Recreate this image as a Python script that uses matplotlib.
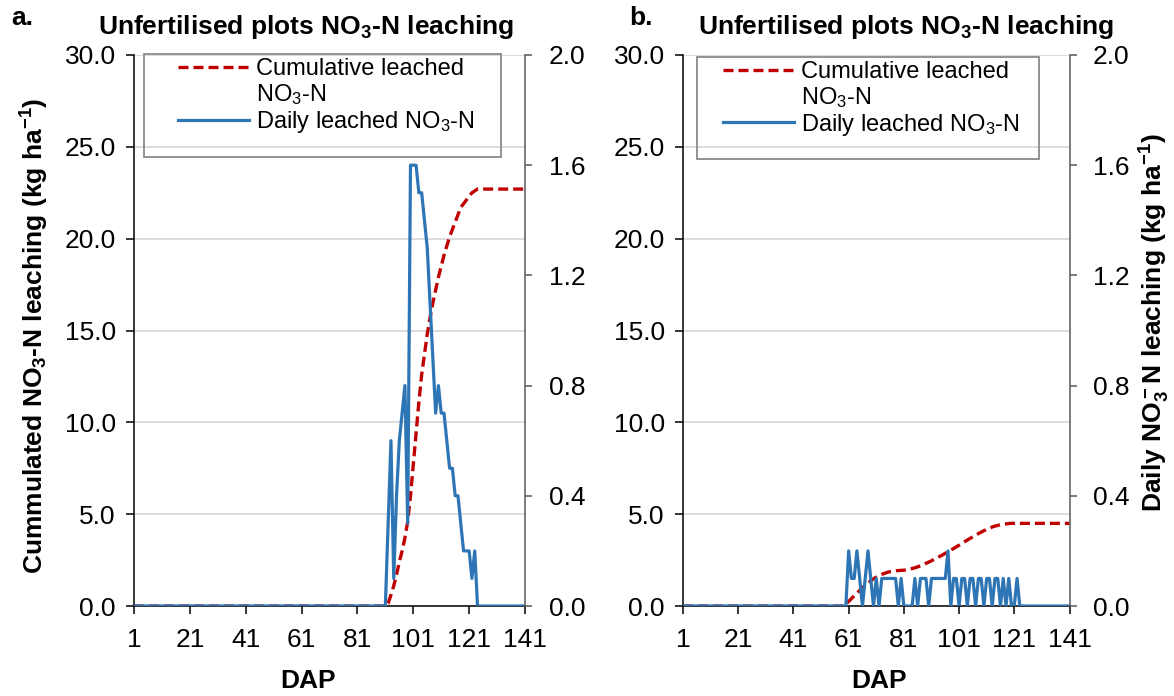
import matplotlib
matplotlib.use("Agg")
import matplotlib.pyplot as plt
import numpy as np
from matplotlib.lines import Line2D
from matplotlib.patches import Rectangle
from matplotlib.ticker import FormatStrFormatter

plt.rcParams['font.family'] = ['Liberation Sans', 'DejaVu Sans']
plt.rcParams['mathtext.default'] = 'regular'

# days after planting shown on the category axis
days = np.arange(1, 142)
x_ticks = [1, 21, 41, 61, 81, 101, 121, 141]

# a. daily leached NO3-N (kg/ha), read from day 91, zero before and after
daily_a_start = 91
daily_a = [0.0, 0.3, 0.6, 0.1, 0.4, 0.6, 0.7, 0.8, 0.3, 1.6,
           1.6, 1.6, 1.5, 1.5, 1.4, 1.3, 1.1, 0.9, 0.7, 0.8,
           0.7, 0.7, 0.6, 0.5, 0.5, 0.4, 0.4, 0.3, 0.2, 0.2,
           0.2, 0.1, 0.2, 0.0]
# a. cumulative leached NO3-N (kg/ha), read from day 91, flat after the last reading
cum_a_start = 91
cum_a = [0.0, 0.15, 0.6, 1.1, 1.7, 2.4, 3.0, 3.7, 4.6, 6.0,
         7.7, 9.4, 11.1, 12.6, 13.7, 14.8, 15.7, 16.5, 17.2, 17.9,
         18.5, 19.1, 19.6, 20.1, 20.5, 20.9, 21.3, 21.7, 21.9, 22.1,
         22.3, 22.5, 22.6, 22.7, 22.7]

# b. daily leached NO3-N, read from day 60
daily_b_start = 60
daily_b = [0.0, 0.2, 0.1, 0.1, 0.2, 0.1, 0.0, 0.1, 0.2, 0.1,
           0.0, 0.1, 0.0, 0.1, 0.1, 0.1, 0.1, 0.1, 0.1, 0.0,
           0.1, 0.0, 0.0, 0.0, 0.0, 0.1, 0.0, 0.1, 0.1, 0.1,
           0.0, 0.1, 0.1, 0.1, 0.1, 0.1, 0.1, 0.2, 0.0, 0.1,
           0.1, 0.0, 0.1, 0.1, 0.0, 0.1, 0.1, 0.0, 0.1, 0.1,
           0.0, 0.1, 0.1, 0.0, 0.1, 0.1, 0.0, 0.1, 0.0, 0.1,
           0.0, 0.0, 0.1, 0.0]
# b. cumulative leached NO3-N, read from day 59
cum_b_start = 59
cum_b = [0.0, 0.1, 0.25, 0.4, 0.55, 0.7, 0.85, 1.0, 1.12, 1.25,
         1.37, 1.48, 1.57, 1.65, 1.72, 1.78, 1.83, 1.87, 1.9, 1.92,
         1.93, 1.94, 1.95, 1.97, 2.0, 2.04, 2.08, 2.13, 2.19, 2.25,
         2.32, 2.39, 2.46, 2.54, 2.62, 2.7, 2.78, 2.87, 2.95, 3.04,
         3.13, 3.22, 3.31, 3.41, 3.5, 3.59, 3.68, 3.77, 3.86, 3.94,
         4.02, 4.1, 4.17, 4.24, 4.3, 4.35, 4.39, 4.42, 4.45, 4.47,
         4.49, 4.5]

RED = '#C00000'
BLUE = '#2E75B6'
GRID = '#D9D9D9'
TITLE = 'Unfertilised plots NO$_3$-N leaching'

W, H = 1174, 696


def full_series(start, values):
    # zero before the first reading, last reading held to day 141
    out = np.full(len(days), values[-1], dtype=float)
    out[:start - 1] = 0.0
    out[start - 1:start - 1 + len(values)] = values
    return out


def px_rect(left, top, right, bottom):
    return [left / W, 1 - bottom / H, (right - left) / W, (bottom - top) / H]


def draw_panel(ax, cum, daily, handle_x, legend_top, box):
    ax2 = ax.twinx()
    red, = ax.plot(days, cum, color=RED, lw=2.4, ls=(0, (3.0, 1.5)),
                   dash_capstyle='butt')
    blue, = ax2.plot(days, daily, color=BLUE, lw=2.3)

    ax.set_xlim(1, 141)
    ax.set_ylim(0, 30)
    ax2.set_ylim(0, 2.0)
    ax.set_xticks(x_ticks)
    ax.set_yticks(np.arange(0, 30.1, 5))
    ax2.set_yticks(np.arange(0, 2.01, 0.4))
    ax.yaxis.set_major_formatter(FormatStrFormatter('%.1f'))
    ax2.yaxis.set_major_formatter(FormatStrFormatter('%.1f'))

    ax.grid(axis='y', color=GRID, lw=1.3)
    ax.set_axisbelow(True)
    ax.tick_params(axis='both', direction='out', length=6, width=1.1,
                   labelsize=19, colors='black')
    ax.tick_params(axis='x', pad=10)
    ax.tick_params(axis='y', pad=7)
    ax2.tick_params(axis='y', direction='out', length=5, width=1.1,
                    labelsize=19, pad=12, color='#595959')

    for a in (ax, ax2):
        a.spines['top'].set_visible(False)
    ax.spines['right'].set_visible(False)
    ax2.spines['left'].set_visible(False)
    ax2.spines['bottom'].set_visible(False)
    ax.spines['left'].set_linewidth(1.1)
    ax.spines['bottom'].set_linewidth(1.1)
    ax2.spines['right'].set_linewidth(1.1)
    ax2.spines['right'].set_color('#595959')

    handles = [red, Line2D([], [], color='none'), blue]
    labels = ['Cumulative leached', 'NO$_3$-N', 'Daily leached NO$_3$-N']
    ax2.legend(handles, labels, loc='upper left',
               bbox_to_anchor=(handle_x, legend_top), frameon=False,
               fontsize=17, handlelength=3.0, handletextpad=0.3,
               labelspacing=0.08, borderpad=0, borderaxespad=0)
    x0, y0, x1, y1 = box
    ax2.add_patch(Rectangle((x0, y0), x1 - x0, y1 - y0, transform=ax.transAxes,
                            fill=False, ec='#8A8A8A', lw=1.3, clip_on=False))
    return ax2


fig = plt.figure(figsize=(W / 100, H / 100), dpi=100)

ax_a = fig.add_axes(px_rect(134, 55, 525, 606))
ax_a2 = draw_panel(ax_a, full_series(cum_a_start, cum_a),
                   full_series(daily_a_start, daily_a),
                   0.1125, 0.994, (0.0256, 0.8154, 0.938, 1.0018))
ax_a.set_ylabel('Cummulated NO$_3$-N leaching (kg ha$^{-1}$)',
                fontsize=19, fontweight='bold')
ax_a.yaxis.set_label_coords(-0.253, 0.49)
ax_a.yaxis.label.set_va('center')
ax_a.set_xlabel('DAP', fontsize=19, fontweight='bold')
ax_a.xaxis.set_label_coords(0.445, -0.136)
ax_a.xaxis.label.set_va('center')

ax_b = fig.add_axes(px_rect(683, 55, 1069.5, 606))
ax_b2 = draw_panel(ax_b, full_series(cum_b_start, cum_b),
                   full_series(daily_b_start, daily_b),
                   0.1035, 0.989, (0.0354, 0.8113, 0.921, 0.9958))
ax_b2.set_ylabel('Daily NO$_3^-$N leaching (kg ha$^{-1}$)',
                 fontsize=19, fontweight='bold', rotation=90)
ax_b2.yaxis.set_label_coords(1.22, 0.5145)
ax_b2.yaxis.label.set_va('center')
ax_b.set_xlabel('DAP', fontsize=19, fontweight='bold')
ax_b.xaxis.set_label_coords(0.507, -0.136)
ax_b.xaxis.label.set_va('center')

# panel letters and titles
fig.text(11 / W, 1 - 25 / H, 'a.', ha='left', va='baseline',
         fontsize=19, fontweight='bold')
fig.text(305.5 / W, 1 - 34 / H, TITLE, ha='center', va='baseline',
         fontsize=19, fontweight='bold')
fig.text(629 / W, 1 - 25 / H, 'b.', ha='left', va='baseline',
         fontsize=19, fontweight='bold')
fig.text(906 / W, 1 - 34 / H, TITLE, ha='center', va='baseline',
         fontsize=19, fontweight='bold')

fig.savefig('out.png', dpi=100)
